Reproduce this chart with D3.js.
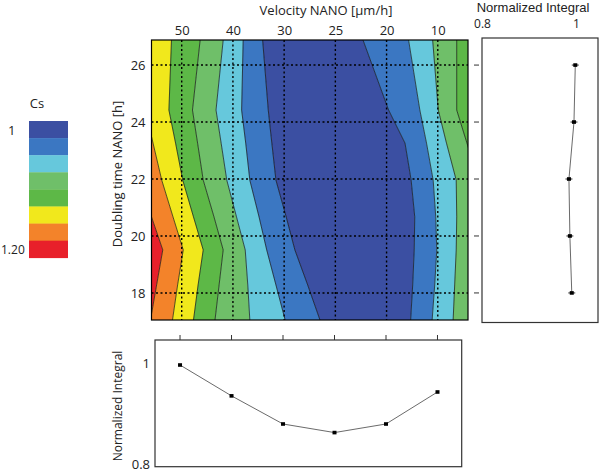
<!DOCTYPE html>
<html><head><meta charset="utf-8">
<script src="https://cdn.jsdelivr.net/npm/d3@7"></script>
<style>
html,body{margin:0;padding:0;background:#fff;}
svg{display:block;font-family:"Open Sans",sans-serif;}
</style></head>
<body>
<svg id="c" width="600" height="472"></svg>
<script>
// ---------- data ----------
const velocities = [50, 40, 30, 25, 20, 10];          // top axis categories (index 0..5)
const doublingTicks = [18, 20, 22, 24, 26];
const legendLabels = ["1", "1.20"];
const levelColors = ["#3b4fa2", "#3b77c2", "#66c8dc", "#6fbf69", "#5db847", "#f1e81c", "#f3832a", "#e8202a"]; // Cs 1 -> 1.20
// contour rows (doubling time, h) and level boundaries (velocity index position per row)
const rowHours = [26.88, 24.42, 23.26, 21.96, 20.67, 19.51, 18.28, 17.05];
const boundaries = [
  [-1.60, -1.40, -1.11, -0.84, -0.59, -0.37, -0.49, -0.61], // red | orange
  [-1.21, -0.71, -0.56, -0.39, -0.17,  0.03, -0.08, -0.18], // orange | yellow
  [-0.20, -0.25, -0.12,  0.02,  0.23,  0.42,  0.32,  0.23], // yellow | green
  [ 0.36,  0.21,  0.31,  0.42,  0.63,  0.81,  0.73,  0.65], // green | light green
  [ 0.81,  0.67,  0.77,  0.88,  1.07,  1.24,  1.29,  1.33], // light green | light blue
  [ 1.20,  1.17,  1.25,  1.33,  1.51,  1.66,  1.84,  2.02], // light blue | blue
  [ 1.58,  1.69,  1.76,  1.84,  2.04,  2.21,  2.46,  2.70], // blue | dark blue
  [ 3.54,  4.04,  4.36,  4.48,  4.55,  4.54,  4.51,  4.47], // dark blue | blue
  [ 4.43,  4.65,  4.78,  4.91,  4.96,  4.98,  4.94,  4.89], // blue | light blue
  [ 4.90,  5.01,  5.17,  5.36,  5.37,  5.36,  5.33,  5.30], // light blue | light green
  [ 5.37,  5.37,  5.57,  5.79,  6.02,  6.22,  6.41,  6.61]  // light green | green
];
const bandLevels = [7, 6, 5, 4, 3, 2, 1, 0, 1, 2, 3, 4, 4];
// marginal integrals
const integralByDoubling = [0.991, 0.987, 0.985, 0.9957, 0.9985]; // for 18,20,22,24,26
const integralByVelocity = [0.9967, 0.937, 0.8826, 0.866, 0.8826, 0.9445]; // for 50..10
const integralTicks = [0.8, 1];

// ---------- layout ----------
const svg = d3.select("#c");
const P = {l: 151.5, r: 468, t: 40, b: 320};
const FS = 13;

const x = d3.scaleLinear().domain([-0.59, 5.59]).range([P.l, P.r]);
const y = d3.scaleLinear().domain([17.05, 26.88]).range([P.b, P.t]);
const col = d3.scaleOrdinal().domain(d3.range(levelColors.length)).range(levelColors);

svg.append("clipPath").attr("id", "clip").append("rect")
  .attr("x", P.l).attr("y", P.t).attr("width", P.r - P.l).attr("height", P.b - P.t);

const g = svg.append("g").attr("clip-path", "url(#clip)");
const far = [rowHours.map(() => -3), ...boundaries, rowHours.map(() => 8)];
const rows = rowHours.map((h, i) => i);
for (let k = 0; k < far.length - 1; k++) {
  const area = d3.area()
    .x0(i => x(far[k][i])).x1(i => x(far[k + 1][i]))
    .y(i => y(rowHours[i]));
  g.append("path").attr("d", area(rows)).attr("fill", col(bandLevels[k])).attr("stroke", col(bandLevels[k])).attr("stroke-width", 0.3);
}
const bline = d3.line().x(d => x(d[0])).y(d => y(d[1]));
boundaries.forEach(b => {
  g.append("path").attr("d", bline(b.map((v, i) => [v, rowHours[i]])))
    .attr("fill", "none").attr("stroke", "#111").attr("stroke-width", 0.7);
});
// dotted grid
velocities.forEach((v, i) => {
  g.append("line").attr("x1", x(i)).attr("x2", x(i)).attr("y1", P.t).attr("y2", P.b)
    .attr("stroke", "#000").attr("stroke-width", 1.4).attr("stroke-dasharray", "2,2.5");
});
doublingTicks.forEach(h => {
  g.append("line").attr("x1", P.l).attr("x2", P.r).attr("y1", y(h)).attr("y2", y(h))
    .attr("stroke", "#000").attr("stroke-width", 1.4).attr("stroke-dasharray", "2,2.5");
});
svg.append("rect").attr("x", P.l).attr("y", P.t).attr("width", P.r - P.l).attr("height", P.b - P.t)
  .attr("fill", "none").attr("stroke", "#000").attr("stroke-width", 1.2);

// top axis
const topAx = d3.axisTop(x).tickValues(d3.range(velocities.length)).tickFormat(i => velocities[i]).tickSize(0).tickPadding(5);
const ta = svg.append("g").attr("transform", `translate(0,${P.t})`).call(topAx);
ta.select(".domain").remove();
ta.selectAll("text").attr("font-size", FS).attr("font-family", "Open Sans").attr("fill", "#222");
svg.append("text").attr("x", 326).attr("y", 15).attr("text-anchor", "middle")
  .attr("font-size", FS).attr("fill", "#222").text("Velocity NANO [μm/h]");

// left axis
const leftAx = d3.axisLeft(y).tickValues(doublingTicks).tickSize(0).tickPadding(6);
const la = svg.append("g").attr("transform", `translate(${P.l},0)`).call(leftAx);
la.select(".domain").remove();
la.selectAll("text").attr("font-size", FS).attr("font-family", "Open Sans").attr("fill", "#222");
svg.append("text").attr("transform", `translate(122,${(P.t + P.b) / 2 - 6}) rotate(-90)`).attr("text-anchor", "middle")
  .attr("font-size", FS).attr("fill", "#222").text("Doubling time NANO [h]");

// legend
const L = {x: 29, y: 121, w: 39, h: 17.1};
levelColors.forEach((c, i) => {
  svg.append("rect").attr("x", L.x).attr("y", L.y + i * L.h).attr("width", L.w).attr("height", L.h + 0.3).attr("fill", c);
});
svg.append("text").attr("x", 37).attr("y", 108).attr("text-anchor", "middle").attr("font-size", FS).attr("fill", "#222").text("Cs");
svg.append("text").attr("x", 8).attr("y", L.y + L.h / 2 + 5).attr("text-anchor", "start").attr("font-size", FS).attr("fill", "#222").text(legendLabels[0]);
svg.append("text").attr("x", 1).attr("y", L.y + 7.5 * L.h + 4.5).attr("text-anchor", "start").attr("font-size", 12).attr("fill", "#222").text(legendLabels[1]);

// right panel
const R = {l: 482, r: 598, t: 38, b: 322.5};
const xr = d3.scaleLinear().domain([0.8, 1]).range([482, 576]);
svg.append("rect").attr("x", R.l).attr("y", R.t).attr("width", R.r - R.l).attr("height", R.b - R.t)
  .attr("fill", "none").attr("stroke", "#333").attr("stroke-width", 1.2);
const rAx = d3.axisTop(xr).tickValues(integralTicks).tickFormat(d => d === 1 ? "1" : d3.format(".1f")(d)).tickSize(0).tickPadding(10);
const ra = svg.append("g").attr("transform", `translate(0,${R.t})`).call(rAx);
ra.select(".domain").remove();
ra.selectAll("text").attr("font-size", 12).attr("font-family", "Open Sans").attr("fill", "#222");
svg.append("text").attr("x", 533).attr("y", 12).attr("text-anchor", "middle").attr("font-family", "Liberation Sans")
  .attr("font-size", 13).attr("fill", "#222").text("Normalized Integral");
doublingTicks.forEach(h => {
  svg.append("line").attr("x1", 474).attr("x2", 479).attr("y1", y(h)).attr("y2", y(h)).attr("stroke", "#333").attr("stroke-width", 1);
});
svg.append("path").attr("d", d3.line().x(d => xr(d[1])).y(d => y(d[0]))(doublingTicks.map((h, i) => [h, integralByDoubling[i]])))
  .attr("fill", "none").attr("stroke", "#444").attr("stroke-width", 0.8);
doublingTicks.forEach((h, i) => {
  svg.append("rect").attr("x", xr(integralByDoubling[i]) - 2).attr("y", y(h) - 1.8).attr("width", 4).attr("height", 3.6).attr("fill", "#000");
  svg.append("line").attr("x1", xr(integralByDoubling[i]) - 3.5).attr("x2", xr(integralByDoubling[i]) + 3.5).attr("y1", y(h)).attr("y2", y(h)).attr("stroke", "#000").attr("stroke-width", 0.8);
});

// bottom panel
const B = {l: 155, r: 461.7, t: 340, b: 466.7};
const xb = d3.scaleLinear().domain([-0.486, 5.47]).range([B.l, B.r]);
const yb = d3.scaleLinear().domain([0.8, 1]).range([466.7, 363.3]);
svg.append("rect").attr("x", B.l).attr("y", B.t).attr("width", B.r - B.l).attr("height", B.b - B.t)
  .attr("fill", "none").attr("stroke", "#333").attr("stroke-width", 1.2);
velocities.forEach((v, i) => {
  svg.append("line").attr("x1", xb(i)).attr("x2", xb(i)).attr("y1", B.t - 5).attr("y2", B.t).attr("stroke", "#333").attr("stroke-width", 1);
});
const bAx = d3.axisLeft(yb).tickValues(integralTicks).tickFormat(d => d === 1 ? "1" : d3.format(".1f")(d)).tickSize(0).tickPadding(5);
const ba = svg.append("g").attr("transform", `translate(${B.l},0)`).call(bAx);
ba.select(".domain").remove();
ba.selectAll("text").attr("font-size", FS).attr("font-family", "Open Sans").attr("fill", "#222");
ba.selectAll(".tick").filter(d => d === 0.8).select("text").attr("dy", "0.1em");
svg.append("text").attr("transform", `translate(122,406) rotate(-90)`).attr("text-anchor", "middle")
  .attr("font-size", 12).attr("fill", "#222").text("Normalized Integral");
svg.append("path").attr("d", d3.line().x((d, i) => xb(i)).y(d => yb(d))(integralByVelocity))
  .attr("fill", "none").attr("stroke", "#444").attr("stroke-width", 0.8);
integralByVelocity.forEach((v, i) => {
  svg.append("rect").attr("x", xb(i) - 2).attr("y", yb(v) - 1.8).attr("width", 4).attr("height", 3.6).attr("fill", "#000");
});
</script>
</body></html>
